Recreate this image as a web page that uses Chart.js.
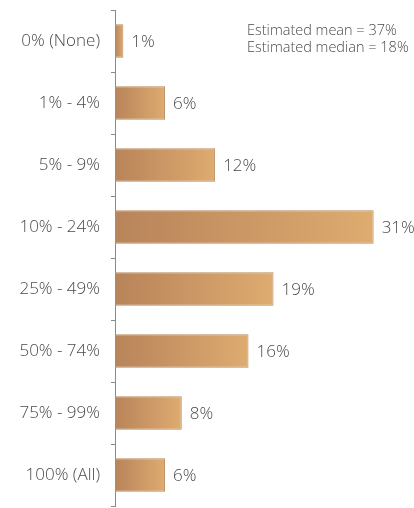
<!DOCTYPE html>
<html>
<head>
<meta charset="utf-8">
<script src="https://cdn.jsdelivr.net/npm/chart.js@4"></script>
<style>
  html, body { margin: 0; padding: 0; background: #fff; }
  #wrap { width: 414px; height: 508px; }
</style>
</head>
<body>
<div id="wrap"><canvas id="chart"></canvas></div>
<script>
Chart.defaults.font.family = "'Open Sans', Lato, sans-serif"
Chart.defaults.color = "#4a4a4a"

// share of respondents in each bucket
const buckets = ["0% (None)", "1% - 4%", "5% - 9%", "10% - 24%", "25% - 49%", "50% - 74%", "75% - 99%", "100% (All)"]
const shares = [1, 6, 12, 31, 19, 16, 8, 6]
const notes = ["Estimated mean = 37%", "Estimated median = 18%"]

const barFill = (ctx) => {
	// each bar fades from dark tan at the axis to light tan at its end
	const chart = ctx.chart
	if (!chart.chartArea || ctx.parsed === undefined) { return "#c8935f" }
	const xs = chart.scales.x
	const x0 = xs.getPixelForValue(0)
	const x1 = xs.getPixelForValue(ctx.parsed.x)
	if (!isFinite(x0) || !isFinite(x1) || x1 <= x0) { return "#c8935f" }
	const g = chart.ctx.createLinearGradient(x0, 0, x1, 0)
	g.addColorStop(0, "#b8845a")
	g.addColorStop(1, "#deab70")
	return g
}

const valueLabels = {
	id: "valueLabels",
	afterDatasetsDraw(chart) {
		const c = chart.ctx
		const meta = chart.getDatasetMeta(0)
		c.save()
		c.font = "300 17px 'Open Sans', Lato, sans-serif"
		c.fillStyle = "#4a4a4a"
		c.textAlign = "left"
		c.textBaseline = "middle"
		meta.data.forEach((bar, i) => {
			c.fillText(shares[i] + "%", bar.x + 8, bar.y + 1)
		})
		c.font = "300 14.5px 'Open Sans', Lato, sans-serif"
		notes.forEach((t, i) => c.fillText(t, 247, 31 + i * 17))
		c.restore()
	}
}

new Chart(document.getElementById("chart"), {
	type: "bar",
	data: {
		labels: buckets,
		datasets: [{
			data: shares,
			backgroundColor: barFill,
			borderColor: "#b98a5e",
			borderWidth: 1,
			borderSkipped: false,
			categoryPercentage: 1,
			barPercentage: 0.54,
		}]
	},
	options: {
		indexAxis: "y",
		responsive: true,
		maintainAspectRatio: false,
		animation: false,
		layout: { padding: { top: 10, bottom: 2, left: 0, right: 32 } },
		plugins: { legend: { display: false }, tooltip: { enabled: false } },
		scales: {
			x: { display: false, min: 0, max: 32 },
			y: {
				afterFit: (s) => { s.width = 115; s.paddingTop = 0; s.paddingBottom = 0 },
				border: { display: true, color: "#8a8a8a", width: 1 },
				grid: { drawOnChartArea: false, offset: true, tickLength: 4, color: "#8a8a8a" },
				ticks: { padding: 11, color: "#4a4a4a", font: { size: 17, weight: 300 } }
			}
		}
	},
	plugins: [valueLabels]
})
</script>
</body>
</html>
